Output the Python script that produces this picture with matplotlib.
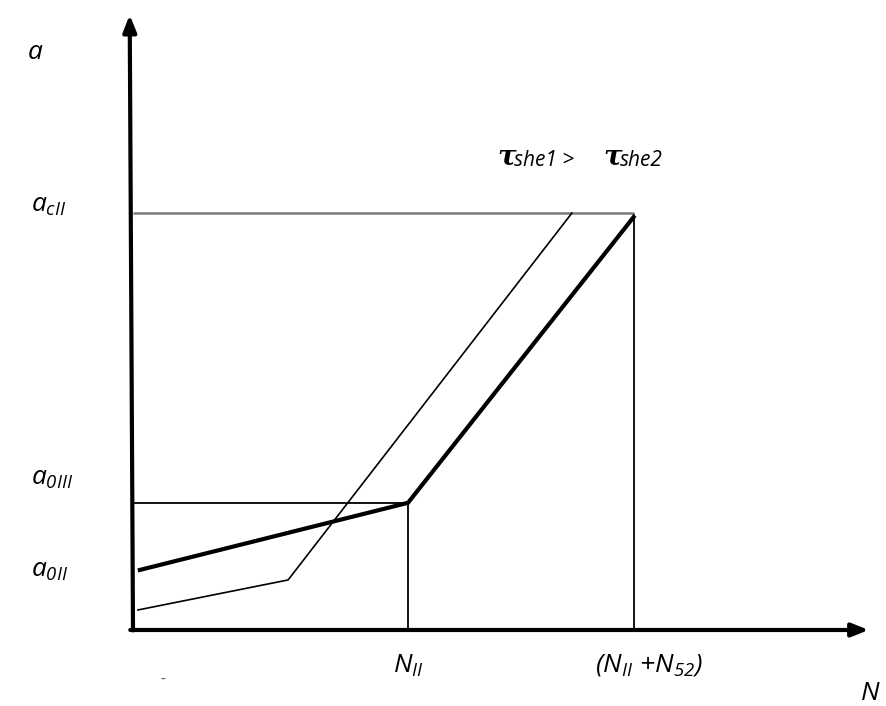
import matplotlib
matplotlib.use("Agg")
import matplotlib.pyplot as plt

plt.rcParams['mathtext.fontset'] = 'custom'
plt.rcParams['mathtext.it'] = 'Open Sans:italic'
plt.rcParams['mathtext.rm'] = 'Open Sans:italic'
plt.rcParams['mathtext.cal'] = 'Open Sans:italic'

# Characteristic levels on the N axis (units of N_II)
n_ii = 1.0
n_ii_plus_n52 = 1.82

# Characteristic levels on the a axis (units of a_cII)
a_cii = 1.0
a_0iii = 0.305
a_0ii = 0.144

# Bold curve (tau_she2): slow growth up to N_II, then steep rise to a_cII
thick_n = [0.025, n_ii, n_ii_plus_n52]
thick_a = [a_0ii, a_0iii, 0.99]

# Thin curve (tau_she1): earlier kink, reaches a_cII sooner
thin_n = [0.018, 0.564, 1.596]
thin_a = [0.048, 0.12, a_cii]

fig = plt.figure(figsize=(8.86, 7.06), dpi=100)
ax = fig.add_axes([0, 0, 1, 1])
ax.set_xlim(-0.4836, 2.738)
ax.set_ylim(-0.1823, 1.5108)
ax.axis('off')

# Axes with arrowheads
ax.annotate('', xy=(-0.012, 1.475), xytext=(0.0, -0.001),
            arrowprops=dict(arrowstyle='-|>,head_length=1.0,head_width=0.4',
                            color='black', lw=3.0, shrinkA=0, shrinkB=0))
ax.annotate('', xy=(2.675, 0.0), xytext=(-0.01, 0.0),
            arrowprops=dict(arrowstyle='-|>,head_length=1.0,head_width=0.4',
                            color='black', lw=3.0, shrinkA=0, shrinkB=0))

# Reference lines
ax.plot([0, n_ii_plus_n52], [a_cii, a_cii], color='#7a7a7a', lw=1.8,
        solid_capstyle='butt')
ax.plot([0, n_ii], [a_0iii, a_0iii], color='black', lw=1.3)
ax.plot([n_ii, n_ii], [0, a_0iii], color='black', lw=1.3)
ax.plot([n_ii_plus_n52, n_ii_plus_n52], [0, 0.995], color='black', lw=1.3)

# Curves
ax.plot(thin_n, thin_a, color='black', lw=1.2)
ax.plot(thick_n, thick_a, color='black', lw=3.0, solid_joinstyle='miter')

# Axis labels
fs = 19
ax.text(-0.385, 1.385, r'$a$', fontsize=fs, ha='left', va='center')
ax.text(-0.37, a_cii + 0.02, r'$a_{cII}$', fontsize=fs, ha='left', va='center')
ax.text(-0.37, a_0iii + 0.06, r'$a_{0III}$', fontsize=fs, ha='left', va='center')
ax.text(-0.37, a_0ii - 0.0, r'$a_{0II}$', fontsize=fs, ha='left', va='center')

ax.text(n_ii - 0.055, -0.085, r'$N_{II}$', fontsize=fs, ha='left', va='center')
ax.text(1.68, -0.085, r'$(N_{II}\ {+}N_{52})$', fontsize=fs, ha='left', va='center')
ax.text(2.645, -0.15, r'$N$', fontsize=fs, ha='left', va='center')
ax.text(0.11, -0.12, '-', fontsize=10, ha='center', va='center', color='#555555')

# Shear stress relation
ty = 1.135
ax.text(1.325, ty, 'τ', fontsize=20, family='DejaVu Serif', style='italic',
        weight='bold', ha='left', va='center')
ax.text(1.385, ty - 0.01, 'she1 >', fontsize=15, family='Open Sans',
        style='italic', ha='left', va='center')
ax.text(1.71, ty, 'τ', fontsize=20, family='DejaVu Serif', style='italic',
        weight='bold', ha='left', va='center')
ax.text(1.77, ty - 0.01, 'she2', fontsize=15, family='Open Sans',
        style='italic', ha='left', va='center')

fig.savefig('out.png', dpi=100)
